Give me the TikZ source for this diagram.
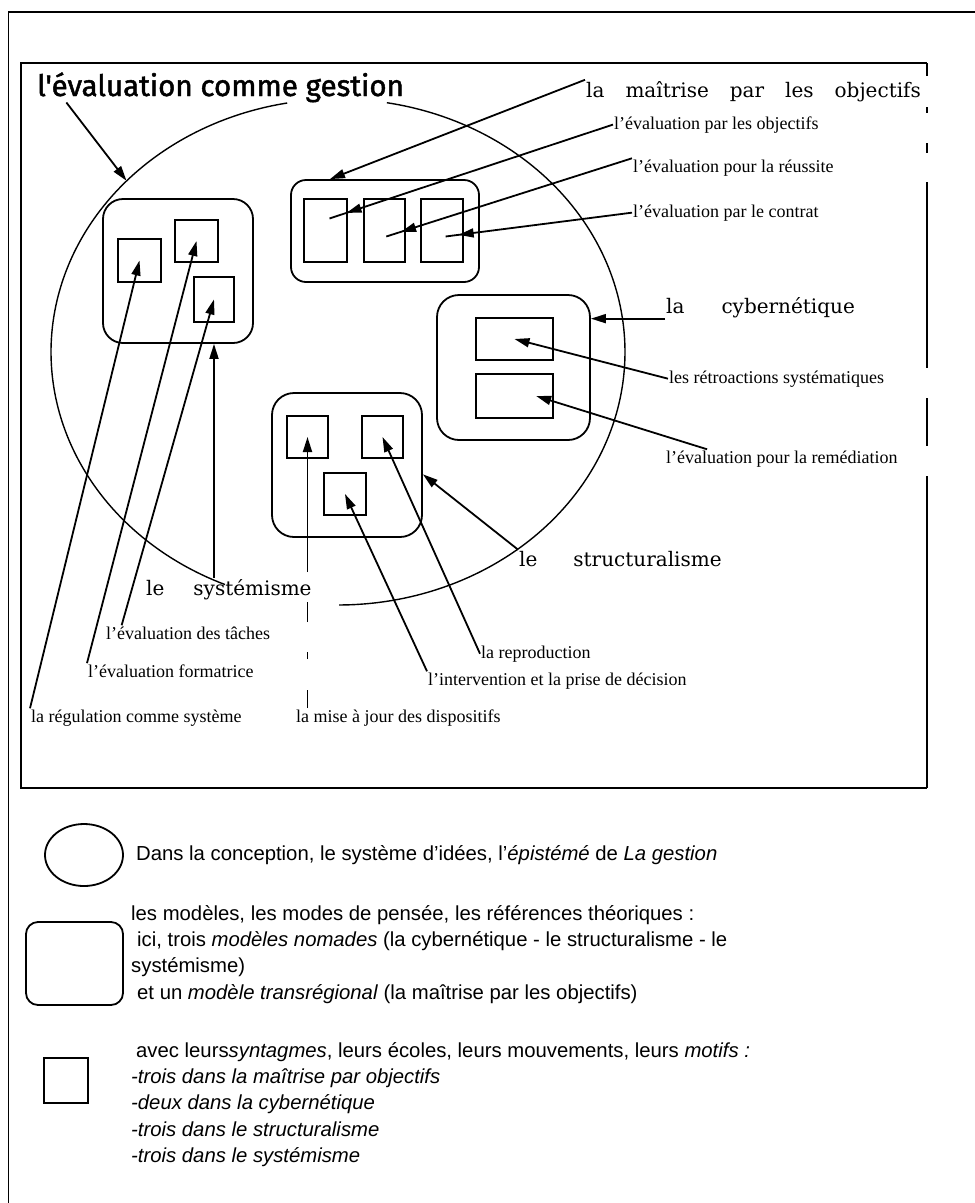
\documentclass[tikz,border=0pt]{standalone}
\usepackage{fontspec}
\setmainfont{Liberation Serif}
\setsansfont{Liberation Sans}
\newfontfamily\titlefont[FakeBold=1.6]{Fira Sans}
\newfontfamily\modelfont{DejaVu Serif}
\usetikzlibrary{shapes.geometric, arrows.meta, positioning, calc, decorations.markings}

\begin{document}
\begin{tikzpicture}[
  x=1pt, y=-1pt,
  grp/.style={draw, line width=1.8pt, inner sep=0pt, rounded corners=#1},
  cell/.style={draw, line width=1.8pt, inner sep=0pt},
  lab/.style={font=\fontsize{18}{20}\selectfont, inner sep=1pt, anchor=base west},
  model/.style={font={\modelfont\fontsize{20}{22}\selectfont\spaceskip=#1\relax},
                inner sep=1pt, anchor=base west},
  legend/.style={font=\sffamily\fontsize{20.3}{26.3}\selectfont, align=left,
                 inner sep=0pt, anchor=north west},
  arr/.style={-{Triangle[length=15pt, width=9pt]}, line width=1.8pt},
  midarr/.style={line width=1.8pt, postaction={decorate},
    decoration={markings, mark=at position #1 with {\arrow{Triangle[length=15pt, width=9pt]}}}}
]
\useasboundingbox (0,0) rectangle (975,1203);

% frames
\draw[line width=1.8pt] (975,12) -- (8.5,12) -- (8.5,1203);
\draw[line width=1.8pt] (927,63) -- (21,63) -- (21,788) -- (927,788);
\draw[line width=1.8pt, dash pattern={on 13pt off 31pt on 6pt off 30pt on 10pt off 29pt
  on 186pt off 30pt on 48pt off 30pt on 320pt}] (927,63) -- (927,788);

% la gestion
\node[ellipse, minimum width=574pt, minimum height=506pt, inner sep=0pt] (gest) at (338,352) {};
\draw[line width=1.4pt] plot[domain=-80.2:89.8, samples=120, smooth] ({338+287*cos(\x)}, {352+253*sin(\x)});
\draw[line width=1.4pt] plot[domain=113.2:259.8, samples=120, smooth] ({338+287*cos(\x)}, {352+253*sin(\x)});

% modeles et syntagmes
\node[grp=20pt, minimum width=150pt, minimum height=144pt] (sys) at (178,271) {};
\node[cell, minimum width=43pt, minimum height=43pt] (a) at (139.5,260.5) {};
\node[cell, minimum width=43pt, minimum height=42pt] (b) at (196.5,241) {};
\node[cell, minimum width=40pt, minimum height=45pt] (c) at (214,299.5) {};

\node[grp=15pt, minimum width=188pt, minimum height=102pt] (mai) at (385,231) {};
\node[cell, minimum width=43pt, minimum height=63pt] (m1) at (325.5,230.5) {};
\node[cell, minimum width=41pt, minimum height=63pt, right=15pt of m1] (m2) {};
\node[cell, minimum width=42pt, minimum height=63pt, right=14pt of m2] (m3) {};

\node[grp=22pt, minimum width=153pt, minimum height=145pt] (cyb) at (513.5,367.5) {};
\node[cell, minimum width=77pt, minimum height=42pt] (y1) at (514.5,339) {};
\node[cell, minimum width=77pt, minimum height=44pt] (y2) at (514.5,396) {};

\node[grp=22pt, minimum width=150pt, minimum height=144pt] (str) at (347,465) {};
\node[cell, minimum width=41pt, minimum height=42pt] (s1) at (307.5,437) {};
\node[cell, minimum width=41pt, minimum height=42pt] (s2) at (382.5,437) {};
\node[cell, minimum width=42pt, minimum height=42pt] (s3) at (345,494) {};

% labels
\node[font=\titlefont\fontsize{29.5}{32}\selectfont, anchor=base west, inner sep=0pt] (ttl) at (37,96) {l'évaluation comme gestion};
\node[model=21pt] (lmai) at (585,97) {la maîtrise par les objectifs};
\node[lab] (lobj) at (613,129) {l'évaluation par les objectifs};
\node[lab] (lreu) at (632,172) {l'évaluation pour la réussite};
\node[lab] (lcon) at (632,217) {l'évaluation par le contrat};
\node[model=37pt] (lcyb) at (665,313) {la cybernétique};
\node[lab] (lret) at (668,383) {les rétroactions systématiques};
\node[lab] (lrem) at (665,463) {l'évaluation pour la remédiation};
\node[model=36pt] (lstr) at (518,566) {le structuralisme};
\node[model=29pt] (lsys) at (145,595) {le systémisme};
\node[lab] (lrep) at (480,658) {la reproduction};
\node[lab] (lint) at (427,685) {l'intervention et la prise de décision};
\node[lab] (ltac) at (105,639) {l'évaluation des tâches};
\node[lab] (lfor) at (87,677) {l'évaluation formatrice};
\node[lab] (lreg) at (30,722) {la régulation comme système};
\node[lab] (lmaj) at (295,722) {la mise à jour des dispositifs};

% fleches
\draw[arr] ($(ttl.south west)!0.08!(ttl.south east)$) -- (gest.141.5);
\draw[arr] (lmai.north west) -- ($(mai.north)!0.58!(mai.north west)$);
\draw[midarr=0.94] (lobj.west) -- ($(m1.center)+(4,-12)$);
\draw[midarr=0.94] (lreu.north west) -- ($(m2.center)+(2,6)$);
\draw[midarr=0.93] (lcon.west) -- ($(m3.center)+(4,6)$);
\draw[arr] (lcyb.south west) -- (cyb.east |- lcyb.south west);
\draw[arr] (lret.west) -- (y1.center);
\draw[arr] ($(lrem.north west)!0.18!(lrem.north east)$) -- ($(y2.center)!0.55!(y2.east)$);
\draw[arr] (lstr.north west) -- (str.-7);
\draw[arr, dash pattern={on 18pt off 31pt on 7pt off 30pt on 20pt off 30pt on 300pt}] (s1 |- lmaj.north) -- (s1.center);
\draw[arr] (lrep.west) -- (s2.center);
\draw[arr] (lint.north west) -- (s3.center);
\draw[arr] (c |- lsys.north) -- (c |- sys.south);
\draw[arr] ($(ltac.north west)!0.1!(ltac.north east)$) -- (c.center);
\draw[arr] (lfor.north west) -- (b.center);
\draw[arr] (lreg.north west) -- (a.center);

% legende
\node[draw, ellipse, line width=1.8pt, minimum width=78pt, minimum height=62pt, inner sep=0pt] (kell) at (84,855) {};
\node[legend, anchor=west] (kt1) at (136,855) {Dans la conception, le système d'idées, l'\textit{épistémé} de \textit{La gestion}};
\node[grp=12pt, minimum width=97pt, minimum height=83pt] (kbox) at (74.5,963.5) {};
\node[legend] (kt2) at (131,905) {les modèles, les modes de pensée, les références théoriques :\\
  \hspace*{6pt}ici, trois \textit{modèles nomades} (la cybernétique - le structuralisme - le\\
  systémisme)\\
  \hspace*{6pt}et un \textit{modèle transrégional} (la maîtrise par les objectifs)};
\node[cell, minimum width=44pt, minimum height=45pt] (kcell) at (66,1080.5) {};
\node[legend] (kt3) at (131,1042) {\hspace*{5pt}avec leurs\textit{syntagmes}, leurs écoles, leurs mouvements, leurs \textit{motifs :}\\
  \textit{-trois dans la maîtrise par objectifs}\\
  \textit{-deux dans la cybernétique}\\
  \textit{-trois dans le structuralisme}\\
  \textit{-trois dans le systémisme}};
\end{tikzpicture}
\end{document}
